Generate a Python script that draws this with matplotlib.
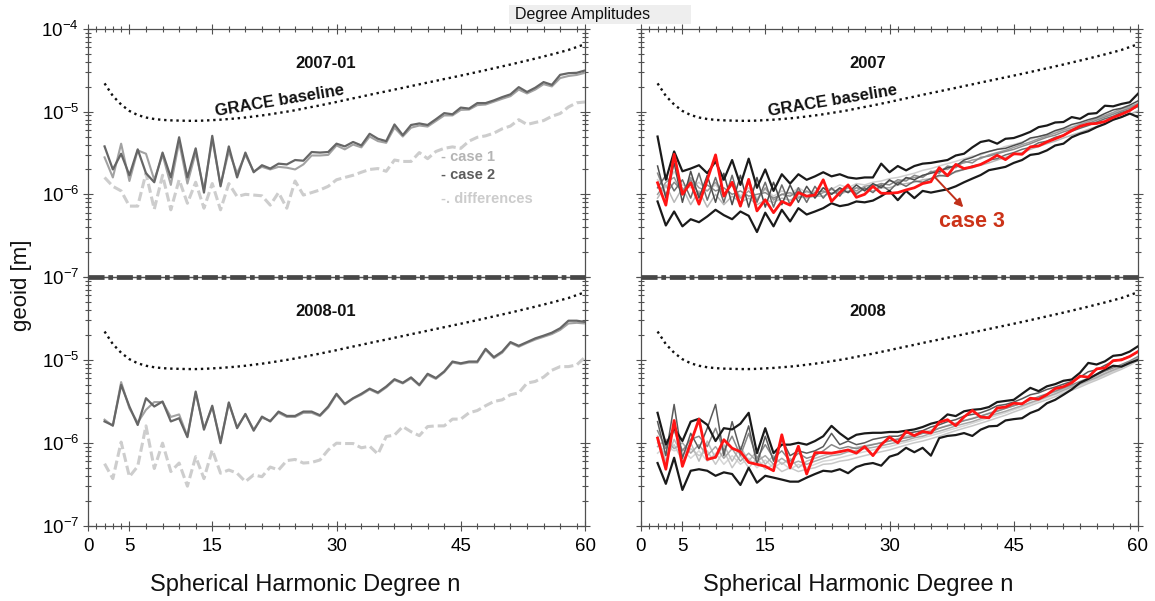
import numpy as np
import matplotlib
matplotlib.use("Agg")
import matplotlib.pyplot as plt
from matplotlib.ticker import FixedLocator, LogLocator, NullFormatter, FuncFormatter
from matplotlib.patches import Rectangle
from matplotlib.lines import Line2D

plt.rcParams['font.family'] = ['Liberation Sans', 'DejaVu Sans']
plt.rcParams['mathtext.fontset'] = 'custom'
plt.rcParams['mathtext.rm'] = 'Liberation Sans'
plt.rcParams['mathtext.it'] = 'Liberation Sans:italic'
plt.rcParams['mathtext.bf'] = 'Liberation Sans:bold'

# ---------------- data (values in 1e-6 m) ----------------
degrees = list(range(2, 61))
unit = 1e-6

grace_baseline = [22.0, 15.5, 12.2, 10.2, 9.1, 8.5, 8.15, 7.95, 7.85, 7.8, 7.75, 7.75, 7.8, 7.9,
                  8.0, 8.15, 8.3, 8.5, 8.75, 9.0, 9.3, 9.65, 10.0, 10.4, 10.9, 11.4, 11.9, 12.5,
                  13.1, 13.8, 14.5, 15.2, 16.0, 16.8, 17.6, 18.5, 19.4, 20.4, 21.4, 22.5, 23.6,
                  24.8, 26.0, 27.3, 28.7, 30.2, 31.8, 33.5, 35.3, 37.2, 39.3, 41.5, 43.9, 46.5,
                  49.3, 52.4, 55.8, 60.5, 65.5]

# 2007-01
c1_2007 = [2.8, 1.6, 4.1, 1.45, 3.4, 3.1, 1.5, 3.0, 1.3, 4.3, 1.35, 3.2, 1.15, 4.6, 1.3, 3.3,
           1.8, 3.0, 1.9, 2.15, 2.0, 2.15, 2.1, 2.0, 2.3, 2.95, 2.95, 3.0, 3.9, 3.5, 4.0, 3.7,
           5.0, 4.4, 4.2, 6.4, 5.0, 6.4, 6.8, 6.6, 7.7, 9.0, 9.0, 10.5, 10.6, 12.0, 12.2, 13.2,
           14.3, 15.4, 18.5, 16.6, 18.5, 21.5, 20.2, 25.5, 27.0, 27.8, 29.5]
c2_2007 = [3.8, 2.0, 3.1, 1.7, 3.5, 1.8, 1.4, 3.2, 1.6, 4.9, 1.6, 3.6, 1.05, 5.1, 1.25, 3.8,
           1.6, 3.2, 1.85, 2.25, 2.05, 2.35, 2.3, 2.6, 2.55, 3.25, 3.2, 3.25, 4.1, 3.8, 4.3, 3.9,
           5.4, 4.7, 4.4, 7.0, 5.2, 6.9, 7.2, 6.9, 8.1, 9.6, 9.3, 11.2, 10.9, 12.7, 12.7, 13.7,
           15.0, 16.2, 19.8, 17.3, 19.5, 22.8, 21.1, 27.9, 29.2, 29.5, 31.5]
diff_2007 = [1.6, 1.25, 1.1, 0.72, 0.72, 1.8, 0.66, 1.7, 0.65, 1.5, 0.78, 1.4, 0.68, 1.35, 0.65,
             1.35, 0.94, 1.0, 0.98, 0.96, 0.74, 1.05, 0.68, 1.45, 0.98, 1.05, 1.13, 1.25, 1.5,
             1.6, 1.7, 1.85, 2.0, 2.05, 1.9, 2.6, 2.5, 2.5, 3.2, 2.7, 3.3, 3.6, 3.75, 3.6, 4.4,
             4.9, 5.1, 5.5, 6.2, 6.7, 8.0, 7.0, 7.4, 7.8, 8.8, 9.5, 11.4, 12.8, 13.1]

# 2008-01
c1_2008 = [1.9, 1.6, 5.4, 2.6, 1.75, 2.5, 3.1, 3.1, 2.05, 2.2, 1.2, 4.0, 1.5, 2.7, 1.05, 3.0,
           1.55, 2.2, 1.45, 2.0, 1.85, 2.3, 2.05, 2.05, 2.3, 2.3, 2.1, 2.65, 3.8, 2.9, 3.4, 3.8,
           4.4, 3.95, 4.65, 5.7, 5.2, 6.0, 4.9, 6.6, 5.9, 7.1, 9.3, 8.9, 9.3, 9.3, 13.2, 10.5,
           12.2, 16.0, 14.4, 16.0, 17.6, 19.0, 20.5, 23.0, 27.5, 28.0, 27.5]
c2_2008 = [1.81, 1.62, 5.0, 2.74, 1.64, 3.45, 2.74, 3.15, 1.81, 1.98, 1.17, 4.15, 1.44, 2.8,
           0.99, 3.07, 1.5, 2.23, 1.4, 2.07, 1.81, 2.38, 2.11, 2.11, 2.38, 2.38, 2.15, 2.74, 3.9,
           2.95, 3.45, 3.9, 4.5, 4.05, 4.77, 5.85, 5.3, 6.15, 5.0, 6.8, 6.05, 7.25, 9.55, 9.1,
           9.55, 9.55, 13.6, 10.8, 12.6, 16.4, 14.8, 16.4, 18.2, 19.6, 21.3, 24.1, 29.7, 29.7,
           28.7]
diff_2008 = [0.56, 0.37, 1.02, 0.39, 0.52, 1.6, 0.49, 0.99, 0.45, 0.57, 0.3, 0.68, 0.37, 0.82,
             0.43, 0.47, 0.43, 0.34, 0.41, 0.39, 0.51, 0.47, 0.61, 0.63, 0.57, 0.58, 0.62, 0.82,
             0.99, 0.98, 0.98, 0.87, 0.91, 0.73, 1.19, 1.24, 1.57, 1.36, 1.22, 1.57, 1.6, 1.6,
             1.93, 1.93, 2.3, 2.45, 2.8, 3.15, 3.3, 3.8, 4.0, 5.25, 5.5, 6.2, 7.5, 8.3, 8.3, 8.7,
             10.8]

# 2007 monthly ensemble
y07_case3 = [1.38, 0.74, 3.05, 1.0, 1.38, 0.76, 1.5, 3.0, 0.95, 1.4, 0.72, 1.52, 0.63, 0.86,
             0.6, 0.82, 0.74, 1.05, 0.95, 0.98, 1.5, 0.82, 1.05, 1.3, 0.92, 1.0, 1.25, 1.03, 1.03,
             1.05, 1.13, 1.2, 1.35, 1.42, 2.1, 1.68, 2.3, 2.05, 2.15, 2.3, 2.58, 2.97, 2.63, 3.1,
             3.05, 3.75, 3.85, 4.3, 4.7, 5.16, 5.9, 6.65, 7.1, 7.2, 7.6, 8.5, 9.3, 10.3, 12.0]
y07_max = [5.0, 1.5, 3.3, 1.9, 2.05, 2.25, 1.8, 2.5, 1.5, 2.6, 1.3, 2.7, 1.2, 2.0, 1.1, 1.75,
           1.35, 1.75, 1.5, 1.65, 1.85, 1.65, 1.75, 1.6, 1.55, 1.6, 1.6, 2.35, 1.85, 2.2, 1.95,
           2.2, 2.35, 2.4, 2.5, 2.6, 2.95, 3.1, 3.7, 4.3, 4.5, 4.1, 4.7, 4.8, 5.2, 5.7, 6.5, 6.8,
           7.4, 7.5, 8.6, 8.2, 9.4, 9.6, 11.8, 11.6, 12.4, 13.0, 16.5]
y07_min = [0.82, 0.42, 0.62, 0.41, 0.5, 0.46, 0.54, 0.65, 0.56, 0.5, 0.62, 0.55, 0.35, 0.6,
           0.41, 0.65, 0.47, 0.68, 0.57, 0.62, 0.68, 0.78, 0.72, 0.75, 0.82, 0.8, 0.84, 0.95,
           1.1, 0.85, 1.1, 0.9, 1.1, 1.05, 1.1, 1.15, 1.25, 1.4, 1.55, 1.71, 1.96, 2.05, 2.15,
           2.4, 2.6, 3.0, 3.1, 3.4, 3.9, 4.1, 4.9, 5.4, 5.8, 6.5, 7.1, 8.0, 8.6, 9.5, 8.6]
y07_m1 = [2.2, 0.9, 2.4, 0.8, 1.9, 0.9, 1.7, 0.8, 1.8, 0.75, 1.7, 0.7, 1.6, 0.7, 1.4, 0.75,
          1.3, 0.8, 1.25, 0.9, 1.2, 1.0, 1.2, 1.05, 1.3, 1.1, 1.35, 1.2, 1.5, 1.3, 1.6, 1.5, 1.7,
          1.8, 1.9, 2.1, 2.2, 2.6, 2.8, 3.1, 3.3, 3.5, 3.6, 3.9, 4.2, 4.8, 5.0, 5.3, 5.9, 6.3,
          7.0, 7.4, 8.0, 8.5, 9.5, 10.5, 11.0, 12.0, 13.5]
y07_m2 = [1.2, 1.7, 1.1, 1.5, 0.9, 1.8, 0.85, 1.6, 0.8, 1.7, 0.75, 1.5, 0.8, 1.4, 0.7, 1.3,
          0.75, 1.2, 0.8, 1.25, 0.9, 1.2, 0.95, 1.3, 1.0, 1.2, 1.05, 1.3, 1.1, 1.4, 1.25, 1.45,
          1.4, 1.55, 1.7, 1.65, 1.9, 2.0, 2.2, 2.3, 2.6, 2.7, 3.0, 3.2, 3.5, 3.7, 4.2, 4.4, 4.9,
          5.2, 5.8, 6.3, 6.8, 7.5, 8.2, 8.8, 9.8, 10.5, 11.5]
y07_m3 = [1.8, 1.0, 1.4, 1.1, 1.5, 1.0, 1.3, 1.1, 1.2, 1.0, 1.1, 0.95, 1.0, 1.05, 0.9, 1.0,
          0.95, 1.1, 0.95, 1.05, 1.1, 1.0, 1.15, 1.05, 1.2, 1.15, 1.25, 1.35, 1.3, 1.5, 1.45,
          1.7, 1.6, 1.9, 1.8, 2.2, 2.1, 2.5, 2.4, 2.8, 2.9, 3.1, 3.3, 3.5, 3.8, 4.1, 4.5, 4.9,
          5.2, 5.7, 6.1, 6.7, 7.2, 7.9, 8.6, 9.3, 10.2, 11.0, 12.2]
y07_m4 = [0.9, 1.3, 0.8, 1.2, 0.75, 1.1, 0.7, 1.0, 0.75, 0.95, 0.8, 0.9, 0.75, 0.85, 0.8, 0.9,
          0.85, 0.95, 0.9, 0.95, 0.95, 1.05, 1.0, 1.1, 1.05, 1.15, 1.1, 1.2, 1.2, 1.3, 1.35, 1.4,
          1.5, 1.55, 1.65, 1.75, 1.85, 2.0, 2.1, 2.25, 2.4, 2.6, 2.8, 3.0, 3.2, 3.5, 3.8, 4.1,
          4.4, 4.8, 5.2, 5.6, 6.1, 6.6, 7.2, 7.9, 8.6, 9.3, 10.2]
y07_m5 = [1.5, 1.2, 1.9, 1.3, 1.2, 1.4, 1.1, 1.3, 1.0, 1.3, 0.95, 1.2, 0.9, 1.15, 0.95, 1.1,
          1.0, 1.2, 1.05, 1.1, 1.2, 1.15, 1.3, 1.2, 1.35, 1.3, 1.4, 1.45, 1.55, 1.6, 1.7, 1.8,
          1.95, 2.05, 2.2, 2.35, 2.5, 2.7, 2.9, 3.0, 3.3, 3.5, 3.8, 4.0, 4.3, 4.6, 5.0, 5.3, 5.7,
          6.2, 6.6, 7.1, 7.6, 8.2, 8.8, 9.6, 10.4, 11.2, 12.8]
y07_m6 = [1.0, 1.4, 1.6, 1.0, 1.6, 1.2, 1.1, 1.4, 1.0, 1.3, 0.9, 1.1, 0.85, 1.2, 0.85, 1.0,
          1.05, 0.9, 1.1, 0.95, 1.05, 1.15, 1.05, 1.2, 1.1, 1.25, 1.3, 1.25, 1.45, 1.4, 1.55,
          1.6, 1.65, 1.85, 2.0, 2.0, 2.3, 2.4, 2.6, 2.7, 3.0, 3.2, 3.4, 3.7, 4.0, 4.3, 4.7, 5.1,
          5.5, 6.0, 6.4, 7.0, 7.6, 8.3, 9.0, 9.8, 10.8, 11.5, 12.5]

# 2008 monthly ensemble
y08_case3 = [1.14, 0.48, 1.86, 0.52, 1.0, 1.93, 0.63, 0.67, 1.09, 0.86, 0.78, 0.58, 0.55, 0.52,
             0.46, 1.25, 0.5, 0.91, 0.42, 0.76, 0.76, 0.75, 0.78, 0.82, 0.75, 0.9, 0.7, 0.95,
             1.17, 1.0, 1.37, 1.22, 1.37, 1.31, 1.77, 1.9, 1.61, 2.05, 2.46, 2.05, 2.0, 2.63, 2.7,
             3.0, 2.95, 3.45, 3.36, 3.8, 4.5, 4.75, 5.3, 6.37, 6.2, 7.8, 8.0, 9.8, 10.0, 11.0,
             12.6]
y08_max = [2.3, 0.95, 1.5, 1.05, 1.8, 1.95, 1.65, 1.05, 1.5, 1.45, 1.7, 2.3, 0.75, 1.5, 0.75,
           0.95, 0.95, 1.0, 0.95, 1.05, 1.2, 1.6, 1.3, 1.1, 1.25, 1.3, 1.32, 1.32, 1.35, 1.35,
           1.4, 1.45, 1.55, 1.7, 1.8, 2.2, 2.1, 2.4, 2.5, 2.55, 2.7, 3.1, 3.2, 3.3, 3.9, 4.6, 4.2,
           4.8, 5.1, 5.6, 5.8, 7.0, 9.2, 8.8, 9.6, 11.2, 11.5, 12.6, 14.6]
y08_min = [0.57, 0.32, 0.66, 0.27, 0.46, 0.48, 0.46, 0.4, 0.44, 0.42, 0.31, 0.5, 0.33, 0.4,
           0.38, 0.36, 0.34, 0.34, 0.38, 0.42, 0.46, 0.45, 0.48, 0.43, 0.51, 0.55, 0.57, 0.53,
           0.68, 0.73, 0.87, 0.77, 0.87, 0.7, 1.14, 1.21, 1.24, 1.31, 1.21, 1.44, 1.58, 1.6,
           1.86, 1.93, 1.98, 2.29, 2.5, 3.0, 3.3, 3.8, 4.4, 5.3, 5.9, 6.7, 7.6, 8.5, 8.3, 9.2,
           10.0]
y08_m1 = [1.8, 0.7, 2.9, 0.65, 1.3, 0.85, 1.5, 2.9, 0.7, 1.8, 0.8, 1.6, 0.55, 1.2, 0.6, 1.1,
          0.7, 0.8, 0.75, 0.8, 0.9, 1.3, 0.95, 1.05, 0.95, 1.0, 1.1, 1.15, 1.2, 1.2, 1.3, 1.35,
          1.4, 1.55, 1.65, 1.8, 1.9, 2.1, 2.2, 2.3, 2.5, 2.8, 2.9, 3.1, 3.4, 3.8, 4.0, 4.4, 4.7,
          5.1, 5.5, 6.2, 7.2, 7.6, 8.6, 9.6, 10.2, 11.0, 12.5]
y08_m2 = [1.4, 0.85, 1.4, 0.8, 1.1, 1.2, 0.9, 1.5, 0.8, 1.2, 0.7, 1.3, 0.65, 0.95, 0.65, 0.8,
          0.6, 0.75, 0.65, 0.7, 0.8, 0.95, 0.85, 0.9, 0.85, 0.9, 0.95, 1.0, 1.05, 1.1, 1.15, 1.2,
          1.3, 1.35, 1.5, 1.6, 1.7, 1.85, 1.95, 2.1, 2.25, 2.4, 2.6, 2.8, 3.0, 3.3, 3.6, 3.9,
          4.2, 4.6, 5.0, 5.5, 6.0, 6.6, 7.3, 8.0, 8.8, 9.7, 11.0]
y08_m3 = [0.9, 1.1, 0.85, 1.0, 0.75, 0.95, 0.7, 0.9, 0.65, 0.85, 0.6, 0.75, 0.6, 0.7, 0.55,
          0.65, 0.55, 0.6, 0.55, 0.6, 0.65, 0.7, 0.72, 0.78, 0.8, 0.85, 0.88, 0.92, 0.97, 1.02,
          1.07, 1.15, 1.2, 1.3, 1.38, 1.48, 1.6, 1.7, 1.8, 1.95, 2.1, 2.25, 2.4, 2.6, 2.8, 3.05,
          3.3, 3.6, 3.9, 4.3, 4.7, 5.1, 5.6, 6.1, 6.8, 7.5, 8.2, 9.0, 10.3]
y08_m4 = [1.2, 0.6, 1.1, 0.7, 1.0, 0.6, 1.05, 0.65, 0.95, 0.6, 0.9, 0.6, 0.8, 0.55, 0.7, 0.55,
          0.65, 0.5, 0.6, 0.65, 0.7, 0.75, 0.8, 0.82, 0.88, 0.92, 0.96, 1.0, 1.06, 1.12, 1.2,
          1.25, 1.33, 1.42, 1.5, 1.62, 1.73, 1.85, 1.98, 2.1, 2.28, 2.45, 2.62, 2.8, 3.0, 3.25,
          3.5, 3.8, 4.1, 4.45, 4.85, 5.25, 5.7, 6.3, 6.9, 7.6, 8.4, 9.2, 10.6]
y08_m5 = [0.75, 0.9, 0.8, 0.85, 0.65, 0.8, 0.6, 0.75, 0.55, 0.7, 0.55, 0.65, 0.5, 0.62, 0.5,
          0.58, 0.48, 0.55, 0.5, 0.55, 0.6, 0.62, 0.66, 0.7, 0.74, 0.78, 0.82, 0.87, 0.9, 0.96,
          1.02, 1.08, 1.15, 1.22, 1.3, 1.4, 1.5, 1.6, 1.72, 1.85, 2.0, 2.15, 2.3, 2.5, 2.7, 2.95,
          3.2, 3.5, 3.8, 4.1, 4.5, 4.9, 5.4, 5.9, 6.5, 7.2, 8.0, 8.8, 10.0]
y08_m6 = [1.0, 0.7, 0.95, 0.6, 0.85, 0.7, 0.8, 0.55, 0.8, 0.5, 0.7, 0.5, 0.65, 0.48, 0.55,
          0.45, 0.5, 0.45, 0.48, 0.5, 0.55, 0.56, 0.6, 0.62, 0.66, 0.7, 0.74, 0.78, 0.82, 0.88,
          0.94, 1.0, 1.05, 1.12, 1.2, 1.3, 1.4, 1.5, 1.6, 1.72, 1.85, 2.0, 2.15, 2.35, 2.55, 2.8,
          3.05, 3.3, 3.6, 3.95, 4.3, 4.7, 5.2, 5.7, 6.3, 7.0, 7.7, 8.6, 9.8]

xtick_major = [0, 5, 15, 30, 45, 60]
xtick_minor = [1, 2, 3, 4] + [k for k in range(7, 60, 2) if k not in (15, 45)]

# ---------------- figure ----------------
W, H = 1155, 601
fig = plt.figure(figsize=(W / 100, H / 100), dpi=100)


def fx(px):
    return px / W


def fy(py):
    return 1 - py / H


col_left = [88, 641]
col_w = 497
top_y0, split_y, bot_y1 = 29, 277, 525.7

axes = {}
for ci, xl in enumerate(col_left):
    axt = fig.add_axes([fx(xl), fy(split_y), col_w / W, (split_y - top_y0) / H])
    axb = fig.add_axes([fx(xl), fy(bot_y1), col_w / W, (bot_y1 - split_y) / H])
    axes[(0, ci)] = axt
    axes[(1, ci)] = axb

spine_col = '#505050'


def fmt_full(v, p):
    return r'$\mathdefault{10^{%d}}$' % int(round(np.log10(v)))


def fmt_nohead(v, p):
    if v > 5e-5:
        return ''
    return r'$\mathdefault{10^{%d}}$' % int(round(np.log10(v)))


for (r, c), ax in axes.items():
    ax.set_yscale('log')
    ax.set_xlim(0, 60)
    ax.set_ylim(1e-7, 1e-4)
    ax.xaxis.set_major_locator(FixedLocator(xtick_major))
    ax.xaxis.set_minor_locator(FixedLocator(xtick_minor))
    ax.yaxis.set_major_locator(LogLocator(base=10, numticks=10))
    ax.yaxis.set_minor_locator(LogLocator(base=10, subs=np.arange(2, 10), numticks=10))
    ax.yaxis.set_minor_formatter(NullFormatter())
    for s in ax.spines.values():
        s.set_color(spine_col)
        s.set_linewidth(0.9)
    ax.tick_params(which='both', direction='inout', top=(r == 0), bottom=(r == 1), right=True,
                   color=spine_col, width=0.8, labelsize=13.5)
    ax.tick_params(which='major', length=7)
    ax.tick_params(which='minor', length=4)
    ax.tick_params(axis='y', pad=3)
    ax.tick_params(axis='x', pad=5)
    if r == 0:
        ax.tick_params(labelbottom=False)
    if c == 1:
        ax.tick_params(labelleft=False)
    else:
        ax.yaxis.set_major_formatter(FuncFormatter(fmt_full if r == 0 else fmt_nohead))
    ax.patch.set_alpha(0)

n = np.array(degrees)
g = np.array(grace_baseline) * unit

# GRACE baseline everywhere
for ax in axes.values():
    ax.plot(n, g, color='#111111', lw=1.7, linestyle=(0, (1, 1.6)), zorder=3)

# left panels
for r, (c1, c2, d, title) in enumerate([(c1_2007, c2_2007, diff_2007, '2007-01'),
                                         (c1_2008, c2_2008, diff_2008, '2008-01')]):
    ax = axes[(r, 0)]
    ax.plot(n, np.array(d) * unit, color='#cdcdcd', lw=2.2, linestyle=(0, (3, 1.3)), zorder=2)
    ax.plot(n, np.array(c1) * unit, color='#a2a2a2', lw=1.5, zorder=3)
    ax.plot(n, np.array(c2) * unit, color='#666666', lw=1.6, zorder=4)
    ax.text(0.479, 0.862, title, transform=ax.transAxes, ha='center', va='center',
            fontsize=12, fontweight='bold', color='#111111')

# right panels
ens = [
    ([y07_m5, y07_m4, y07_m6, y07_m3, y07_m2, y07_m1], y07_max, y07_min, y07_case3, '2007'),
    ([y08_m5, y08_m6, y08_m4, y08_m3, y08_m2, y08_m1], y08_max, y08_min, y08_case3, '2008'),
]
gray_cols = [['#d0d0d0', '#b8b8b8', '#9c9c9c', '#8a8a8a', '#6c6c6c', '#4c4c4c'],
             ['#d6d6d6', '#c8c8c8', '#bcbcbc', '#a8a8a8', '#888888', '#5a5a5a']]
for r, (members, emax, emin, case3, label) in enumerate(ens):
    ax = axes[(r, 1)]
    for k, m in enumerate(members):
        ax.plot(n, np.array(m) * unit, color=gray_cols[r][k], lw=1.1, zorder=2)
    ax.plot(n, np.array(emax) * unit, color='#1a1a1a', lw=1.6, zorder=4)
    ax.plot(n, np.array(emin) * unit, color='#1a1a1a', lw=1.6, zorder=4)
    ax.plot(n, np.array(case3) * unit, color='#ff1414', lw=2.0, zorder=5)
    ax.text(0.457, 0.862, label, transform=ax.transAxes, ha='center', va='center',
            fontsize=12, fontweight='bold', color='#111111')

# GRACE baseline labels (top row)
for c in (0, 1):
    ax = axes[(0, c)]
    ax.text(23.2, 1.35e-5, 'GRACE baseline', rotation=9.5, ha='center', va='center',
            fontsize=12, fontweight='bold', color='#111111', zorder=6)

# legend-like texts in top-left
axl = axes[(0, 0)]
axl.text(0.71, 0.485, '- case 1', transform=axl.transAxes, ha='left', va='center',
         fontsize=10.5, fontweight='bold', color='#b4b4b4')
axl.text(0.71, 0.411, '- case 2', transform=axl.transAxes, ha='left', va='center',
         fontsize=10.5, fontweight='bold', color='#5c5c5c')
axl.text(0.71, 0.313, '-. differences', transform=axl.transAxes, ha='left', va='center',
         fontsize=10.5, fontweight='bold', color='#cccccc')

# case 3 annotation (top-right)
axr = axes[(0, 1)]
axr.annotate('', xy=(0.6485, 0.281), xytext=(0.5915, 0.402), xycoords='axes fraction',
             textcoords='axes fraction',
             arrowprops=dict(arrowstyle='-|>', color='#c0301a', lw=1.4, mutation_scale=12,
                             shrinkA=0, shrinkB=0), zorder=7)
axr.text(0.666, 0.223, 'case 3', transform=axr.transAxes, ha='center', va='center',
         fontsize=15.5, fontweight='bold', color='#cc3318', zorder=7)

# dash-dot separators (figure level, drawn on top of everything)
for xl in col_left:
    sep = Line2D([fx(xl), fx(xl + col_w)], [fy(split_y), fy(split_y)],
                 transform=fig.transFigure, color='#474747', lw=3.4,
                 linestyle=(0, (3.4, 0.8, 1.0, 0.8)), dash_capstyle='butt', zorder=50)
    fig.add_artist(sep)

# axis labels
for xl in col_left:
    fig.text(fx(xl + 217), fy(585), 'Spherical Harmonic Degree n', ha='center', va='center',
             fontsize=17, color='#111111')
fig.text(fx(22), fy(285), 'geoid [m]', rotation=90, ha='center', va='center', fontsize=16,
         color='#111111')

# title box
fig.patches.append(Rectangle((fx(509), fy(24)), (691 - 509) / W, 19 / H,
                             transform=fig.transFigure, facecolor='#eeeeee',
                             edgecolor='none', zorder=0))
fig.text(fx(515), fy(14.5), 'Degree Amplitudes', ha='left', va='center', fontsize=11.5,
         color='#111111')

fig.savefig('out.png', dpi=100)
